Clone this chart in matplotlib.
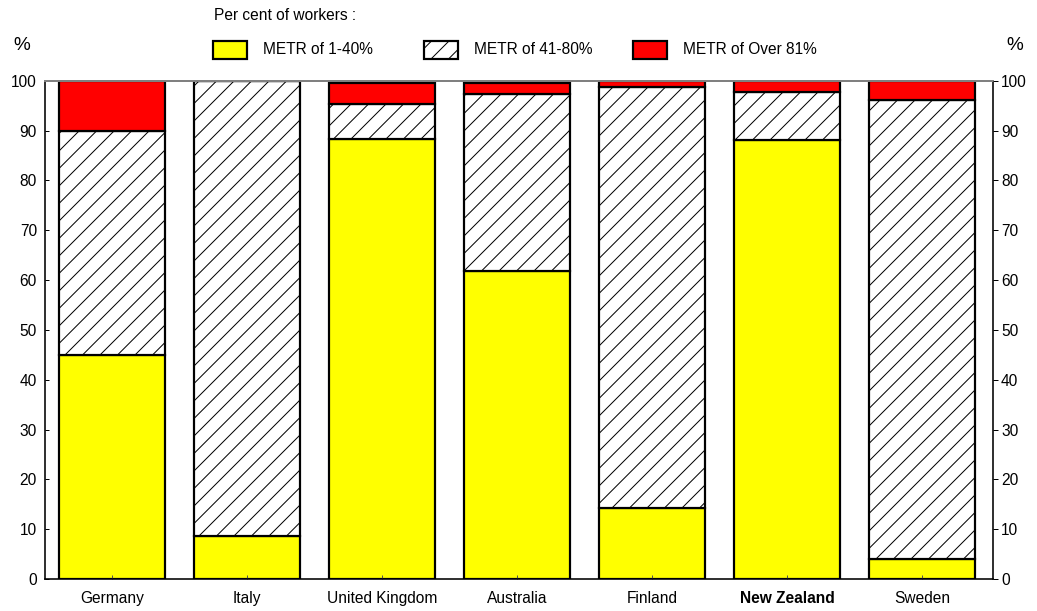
import matplotlib.pyplot as plt
from matplotlib.patches import Rectangle
import numpy as np

dpi = 105
def pt(px):
    # pixel size -> points at this dpi
    return px * 72 / dpi

plt.rcParams['font.family'] = ['Liberation Sans', 'DejaVu Sans']
plt.rcParams['hatch.linewidth'] = pt(1.0)

# Data (per cent of workers)
countries = ['Germany', 'Italy', 'United Kingdom', 'Australia', 'Finland', 'New Zealand', 'Sweden']
metr_low = [45.0, 8.6, 88.3, 61.8, 14.2, 88.1, 4.0]     # METR of 1-40%
metr_mid = [45.0, 91.4, 7.0, 35.5, 84.6, 9.6, 92.1]     # METR of 41-80%
metr_high = [10.0, 0.0, 4.2, 2.2, 1.1, 2.3, 3.9]        # METR of Over 81%
series_labels = ['METR of 1-40%', 'METR of 41-80%', 'METR of Over 81%']

W, H = 1037, 611
fig = plt.figure(figsize=(W / dpi, H / dpi), dpi=dpi)
ax = fig.add_axes([45 / W, 1 - 579 / H, (993 - 45) / W, (579 - 80.7) / H])

x = np.arange(len(countries))
w = 0.79
fs = pt(15.5)
edge = dict(edgecolor='black', linewidth=pt(2.2))

ax.bar(x, metr_low, w, color='#ffff00', **edge)
ax.bar(x, metr_mid, w, bottom=metr_low, color='white', hatch='//', **edge)
bottom2 = np.array(metr_low) + np.array(metr_mid)
ax.bar(x, metr_high, w, bottom=bottom2, color='#ff0000', **edge)

ax.set_xlim(-0.496, 6.526)
ax.set_ylim(0, 100)
ax.set_yticks(range(0, 101, 10))
ax.set_xticks(x)
ax.set_xticklabels(countries, fontsize=fs)
ax.get_xticklabels()[5].set_fontweight('bold')
ax.tick_params(axis='x', direction='in', length=pt(4), width=pt(1), color='#555555', pad=pt(12))
ax.tick_params(axis='y', direction='in', length=pt(4), width=pt(1), labelsize=fs, pad=pt(8))

for s in ['left', 'bottom', 'right']:
    ax.spines[s].set_linewidth(pt(1.6))
    ax.spines[s].set_color('black')
ax.spines['top'].set_color('#808080')
ax.spines['top'].set_linewidth(pt(2))

ax2 = ax.twinx()
ax2.set_ylim(0, 100)
ax2.set_yticks(range(0, 101, 10))
ax2.tick_params(axis='y', direction='out', length=pt(5), width=pt(1), labelsize=fs, pad=pt(3))
for s in ax2.spines.values():
    s.set_visible(False)

fig.text(13 / W, 1 - 46 / H, '%', fontsize=pt(19), va='center', ha='left')
fig.text(1006 / W, 1 - 46 / H, '%', fontsize=pt(19), va='center', ha='left')

# legend
fig.text(214 / W, 1 - 16 / H, 'Per cent of workers :', fontsize=fs, va='center', ha='left')
legend_x = [213, 424, 633]
fills = ['#ffff00', 'white', '#ff0000']
hatches = [None, '//', None]
for lx, fc, h, lab in zip(legend_x, fills, hatches, series_labels):
    fig.patches.append(Rectangle((lx / W, 1 - 59 / H), 34 / W, 18 / H,
                                 transform=fig.transFigure, facecolor=fc, hatch=h,
                                 edgecolor='black', linewidth=pt(2.2)))
    fig.text((lx + 50) / W, 1 - 50 / H, lab, fontsize=fs, va='center', ha='left')

fig.savefig('out.png', dpi=dpi)
